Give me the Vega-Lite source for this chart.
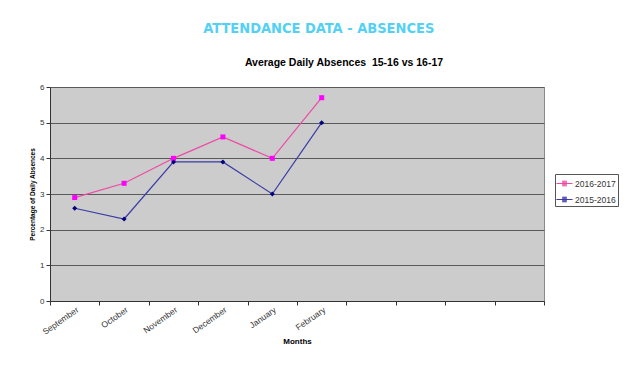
{
  "$schema": "https://vega.github.io/schema/vega-lite/v6.json",
  "background": "white",
  "autosize": {"type": "pad"},
  "padding": {"left": 29, "top": 20, "right": 5, "bottom": 5},
  "title": {
    "text": "ATTENDANCE DATA - ABSENCES",
    "anchor": "middle",
    "frame": "bounds",
    "font": "DejaVu Sans Condensed",
    "fontSize": 14.5,
    "fontWeight": "bold",
    "color": "#52d1f5",
    "offset": 21,
    "dx": -5
  },
  "vconcat": [
    {
      "width": 494,
      "height": 214,
      "title": {
        "text": "Average Daily Absences \u00a015-16 vs 16-17",
        "anchor": "middle",
        "frame": "group",
        "font": "Liberation Sans",
        "fontSize": 10.5,
        "fontWeight": "bold",
        "color": "#000000",
        "offset": 15,
        "dx": 47
      },
      "data": {
        "values": [
          {"month": "September", "series": "2016-2017", "absences": 2.9},
          {"month": "October", "series": "2016-2017", "absences": 3.3},
          {"month": "November", "series": "2016-2017", "absences": 4.0},
          {"month": "December", "series": "2016-2017", "absences": 4.6},
          {"month": "January", "series": "2016-2017", "absences": 4.0},
          {"month": "February", "series": "2016-2017", "absences": 5.7},
          {"month": "September", "series": "2015-2016", "absences": 2.6},
          {"month": "October", "series": "2015-2016", "absences": 2.3},
          {"month": "November", "series": "2015-2016", "absences": 3.9},
          {"month": "December", "series": "2015-2016", "absences": 3.9},
          {"month": "January", "series": "2015-2016", "absences": 3.0},
          {"month": "February", "series": "2015-2016", "absences": 5.0}
        ]
      },
      "encoding": {
        "x": {
          "field": "month",
          "type": "nominal",
          "sort": null,
          "scale": {
            "type": "band",
            "paddingInner": 0,
            "paddingOuter": 0,
            "domain": ["September", "October", "November", "December", "January", "February", "March", "April", "May", "June"]
          },
          "axis": {
            "title": "Months",
            "tickBand": "extent",
            "labelExpr": "indexof(['March','April','May','June'], datum.value) >= 0 ? '' : datum.label",
            "labelAngle": -35,
            "labelFont": "Liberation Sans",
            "labelFontSize": 8.5,
            "labelColor": "#333333",
            "labelPadding": 0,
            "tickSize": 4,
            "tickColor": "#333333",
            "domainColor": "#333333",
            "grid": false,
            "titleFont": "Liberation Sans",
            "titleFontSize": 8,
            "titleFontWeight": "bold",
            "titleColor": "#000000",
            "titlePadding": 2
          }
        },
        "y": {
          "field": "absences",
          "type": "quantitative",
          "scale": {"domain": [0, 6], "nice": false},
          "axis": {
            "title": "Percentage of Daily Absences",
            "values": [0, 1, 2, 3, 4, 5, 6],
            "labelFont": "Liberation Sans",
            "labelFontSize": 8,
            "labelColor": "#333333",
            "labelPadding": 2,
            "tickSize": 4,
            "tickColor": "#333333",
            "domainColor": "#333333",
            "grid": true,
            "gridColor": "#5a5a5a",
            "gridWidth": 1,
            "titleFont": "Liberation Sans",
            "titleFontSize": 6.5,
            "titleFontWeight": "bold",
            "titleColor": "#000000",
            "titlePadding": 4
          }
        }
      },
      "layer": [
        {
          "mark": {"type": "line", "strokeWidth": 1.2},
          "encoding": {
            "color": {
              "field": "series",
              "type": "nominal",
              "scale": {"domain": ["2016-2017", "2015-2016"], "range": ["#ee4aa5", "#3a3aa8"]},
              "legend": {
                "title": null,
                "orient": "none",
                "legendX": 505,
                "legendY": 87,
                "strokeColor": "#555555",
                "fillColor": "#ffffff",
                "padding": 2,
                "symbolType": "M-1.15,0H1.15M-0.33,-0.33H0.33M-0.33,-0.2H0.33M-0.33,-0.07H0.33M-0.33,0.07H0.33M-0.33,0.2H0.33M-0.33,0.33H0.33",
                "symbolSize": 196,
                "symbolStrokeWidth": 1,
                "rowPadding": 4,
                "labelOffset": 3,
                "labelFont": "Liberation Sans",
                "labelFontSize": 8.5,
                "labelColor": "#333333"
              }
            }
          }
        },
        {
          "mark": {"type": "point", "filled": true, "opacity": 1, "size": 25},
          "encoding": {
            "shape": {
              "condition": {"test": "datum.series === '2016-2017'", "value": "square"},
              "value": "diamond"
            },
            "fill": {
              "condition": {"test": "datum.series === '2016-2017'", "value": "#ff00ff"},
              "value": "#000080"
            }
          }
        }
      ]
    }
  ],
  "config": {
    "font": "Liberation Sans",
    "view": {"fill": "#cccccc", "stroke": "#8a8a8a", "strokeWidth": 1}
  }
}
